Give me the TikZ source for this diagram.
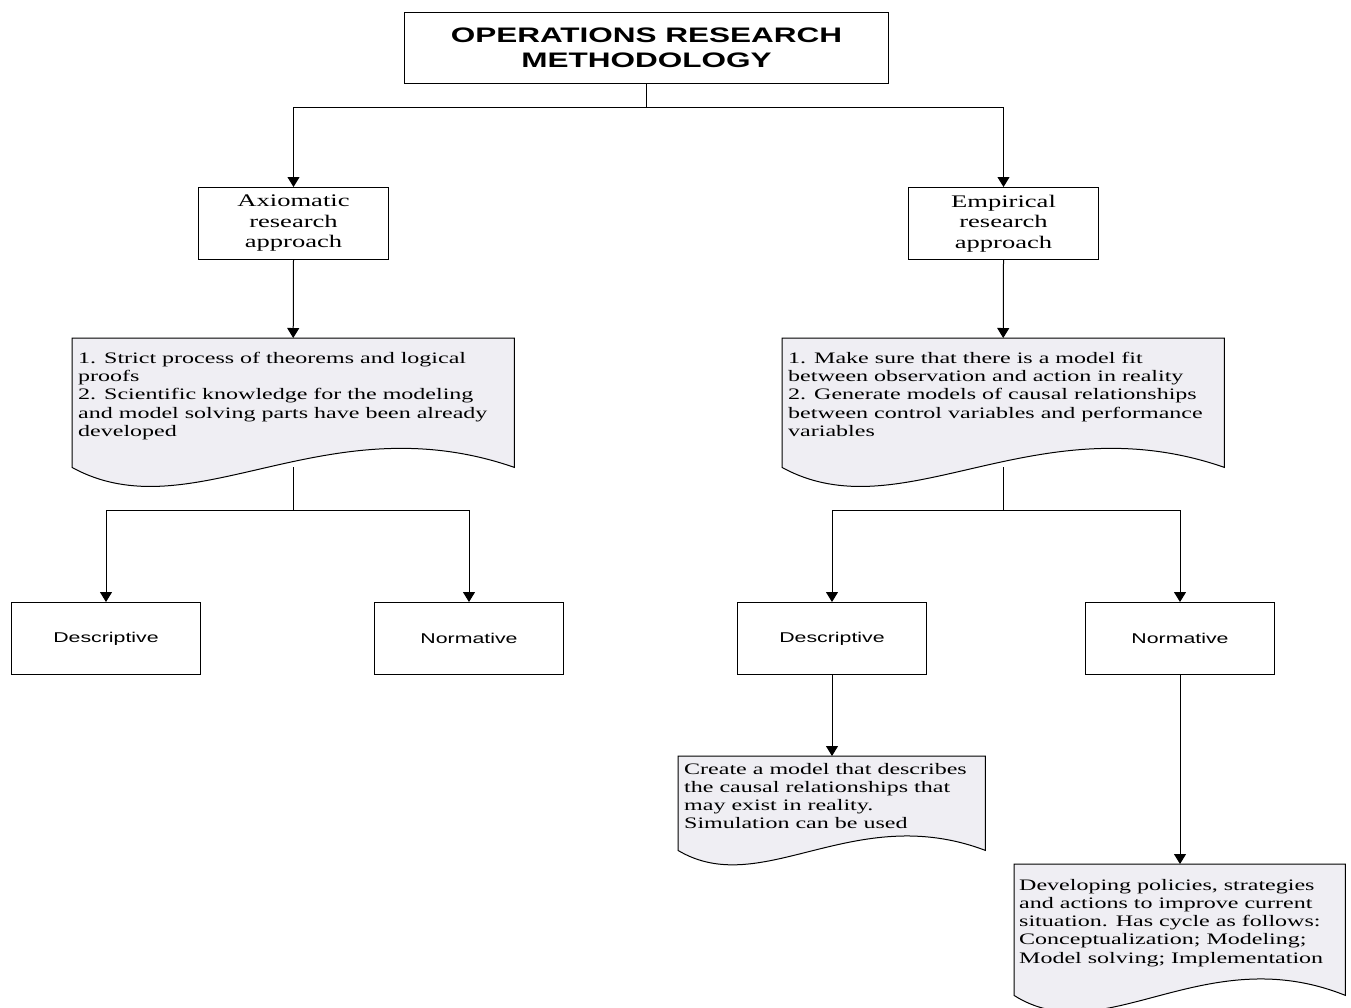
\documentclass[tikz,border=0pt]{standalone}
\usepackage{fontspec}
\setmainfont{Liberation Serif}[FakeStretch=1.5]
\newfontfamily\widesans{Liberation Sans}[FakeStretch=1.5]
\usetikzlibrary{arrows.meta}
\definecolor{docfill}{HTML}{EFEEF3}

\tikzset{
  box/.style={draw, line width=1pt, fill=white, inner sep=0pt, anchor=north west, align=center},
  docframe/.style={inner sep=0pt, anchor=north west},
  doctext/.style={inner sep=0pt, anchor=north west, align=left, font=\fontsize{16}{18.2}\selectfont},
  conn/.style={line width=1pt},
  arr/.style={line width=1pt, -{Triangle[width=12pt,length=10pt]}},
}

% document shape: straight top and sides, wavy bottom
% #2, #3: horizontal pulls of the two control points, #4: wave height
\newcommand\docoutline[4]{%
  \draw[line width=1pt, fill=docfill] (#1.north west) -- (#1.north east) -- (#1.south east)
    .. controls +(-#2,-#4) and +(#3,#4) .. (#1.south west) -- cycle;}

\begin{document}
\begin{tikzpicture}[x=1pt, y=-1pt]
\useasboundingbox (0,0) rectangle (1351,1007);

% top level
\node[box, minimum width=484pt, minimum height=71pt,
      font=\widesans\bfseries\fontsize{21}{25}\selectfont] (title) at (404,12)
  {OPERATIONS RESEARCH\\METHODOLOGY};

% research approaches
\node[box, minimum width=190pt, minimum height=72pt, font=\fontsize{17.7}{20.5}\selectfont]
  (ax) at (198,187) {Axiomatic\\research\\approach};
\node[box, minimum width=190pt, minimum height=72pt, font=\fontsize{17.7}{20.5}\selectfont]
  (emp) at (908,187) {Empirical\\research\\approach};

% descriptions of the approaches
\node[docframe, minimum width=442pt, minimum height=129pt] (ldoc) at (72,338) {};
\docoutline{ldoc}{190}{120}{66}
\node[doctext] (ldoctxt) at (78,352)
  {1. Strict process of theorems and logical\\proofs\\2. Scientific knowledge for the modeling\\and model solving parts have been already\\developed};

\node[docframe, minimum width=442pt, minimum height=129pt] (rdoc) at (782,338) {};
\docoutline{rdoc}{190}{120}{66}
\node[doctext] (rdoctxt) at (788,352)
  {1. Make sure that there is a model fit\\between observation and action in reality\\2. Generate models of causal relationships\\between control variables and performance\\variables};

% model types
\tikzset{kind/.style={box, minimum width=189pt, minimum height=72pt, font=\widesans\fontsize{14.2}{17}\selectfont}}
\node[kind] (ldesc) at (11,602) {Descriptive};
\node[kind] (lnorm) at (374,602) {Normative};
\node[kind] (rdesc) at (737,602) {Descriptive};
\node[kind] (rnorm) at (1085,602) {Normative};

% empirical model details
\node[docframe, minimum width=307pt, minimum height=94pt] (sdoc) at (678,756) {};
\docoutline{sdoc}{132}{84}{50}
\node[doctext] (sdoctxt) at (684,763)
  {Create a model that describes\\the causal relationships that\\may exist in reality.\\Simulation can be used};

\node[docframe, minimum width=331pt, minimum height=131pt] (ndoc) at (1014,864) {};
\docoutline{ndoc}{142}{90}{57}
\node[doctext] (ndoctxt) at (1019,879)
  {Developing policies, strategies\\and actions to improve current\\situation. Has cycle as follows:\\Conceptualization; Modeling;\\Model solving; Implementation};

% connectors
\draw[arr] (title.south) -- ++(0,23) -| (ax.north);
\draw[arr] (title.south) -- ++(0,23) -| (emp.north);
\draw[arr] (ax.south) -- (ldoc.north);
\draw[arr] (emp.south) -- (rdoc.north);
\draw[arr] (ldoc.south) -- ++(0,43) -| (ldesc.north);
\draw[arr] (ldoc.south) -- ++(0,43) -| (lnorm.north);
\draw[arr] (rdoc.south) -- ++(0,43) -| (rdesc.north);
\draw[arr] (rdoc.south) -- ++(0,43) -| (rnorm.north);
\draw[arr] (rdesc.south) -- (rdesc.south |- sdoc.north);
\draw[arr] (rnorm.south) -- (rnorm.south |- ndoc.north);
\end{tikzpicture}
\end{document}
